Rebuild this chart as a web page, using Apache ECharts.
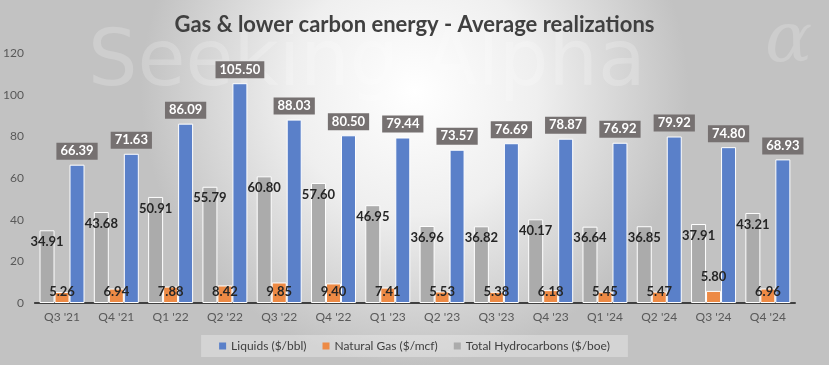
<!DOCTYPE html>
<html><head><meta charset="utf-8">
<script src="https://cdn.jsdelivr.net/npm/echarts@6/dist/echarts.min.js"></script>
<style>html,body{margin:0;padding:0;}#c{width:829px;height:365px;}</style>
</head><body><div id="c"></div>
<script>
const categories = ["Q3 '21","Q4 '21","Q1 '22","Q2 '22","Q3 '22","Q4 '22","Q1 '23","Q2 '23","Q3 '23","Q4 '23","Q1 '24","Q2 '24","Q3 '24","Q4 '24"];
const liquids = [66.39,71.63,86.09,105.50,88.03,80.50,79.44,73.57,76.69,78.87,76.92,79.92,74.80,68.93];
const naturalGas = [5.26,6.94,7.88,8.42,9.85,9.40,7.41,5.53,5.38,6.18,5.45,5.47,5.80,6.96];
const totalHydrocarbons = [34.91,43.68,50.91,55.79,60.80,57.60,46.95,36.96,36.82,40.17,36.64,36.85,37.91,43.21];
const yTicks = {min:0, max:120, interval:20};

const FONT = 'Lato';
const chart = echarts.init(document.getElementById('c'), null, {renderer:'canvas'});
const gasData = naturalGas.map((v,i)=> i===12 ? {value:v, label:{offset:[0,-15]}} : v);
chart.setOption({
  backgroundColor: {type:'radial', x:0.5, y:0.25, r:0.75, colorStops:[{offset:0,color:'#ffffff'},{offset:0.45,color:'#efefef'},{offset:1,color:'#c2c2c2'}]},
  textStyle:{fontFamily:FONT},
  graphic:[{type:'text', left:88, top:26, z:-1, silent:true,
    style:{text:'Seeking Alpha', font:'78px "DejaVu Sans"', fill:'rgba(255,255,255,0.2)'}},
    {type:'text', left:765, top:8, z:-1, silent:true,
    style:{text:'α', font:'italic 70px "DejaVu Serif"', fill:'rgba(255,255,255,0.18)'}}],
  title:{text:'Gas & lower carbon energy - Average realizations', left:'center', top:9,
    textStyle:{fontFamily:FONT, fontSize:22, fontWeight:'bold', color:'#404040'}},
  legend:{data:['Liquids ($/bbl)','Natural Gas ($/mcf)','Total Hydrocarbons ($/boe)'], bottom:8, left:'center',
    itemWidth:7, itemHeight:7, itemGap:16, icon:'rect', padding:[5,18],
    itemStyle:{borderWidth:0},
    backgroundColor:'rgba(255,255,255,0.3)',
    textStyle:{fontFamily:FONT, fontSize:12, color:'#404040'}},
  grid:{left:33, right:34, top:53, bottom:62, containLabel:false},
  xAxis:{type:'category', data:categories,
    axisLine:{lineStyle:{color:'#404040', width:2}}, axisTick:{show:false},
    axisLabel:{color:'#595959', fontSize:12, margin:8, fontFamily:FONT}},
  yAxis:{type:'value', min:yTicks.min, max:yTicks.max, interval:yTicks.interval,
    splitLine:{show:false}, axisLine:{show:false}, axisTick:{show:false},
    axisLabel:{color:'#595959', fontSize:12, margin:11, fontFamily:FONT}},
  series:[
    {name:'Total Hydrocarbons ($/boe)', type:'bar', data:totalHydrocarbons, barWidth:15, barGap:'0%', barCategoryGap:'17%',
      itemStyle:{color:'#ababab', borderColor:'#ffffff', borderWidth:1},
      label:{show:true, position:'insideTop', distance:5, formatter:p=>p.value.toFixed(2), fontFamily:FONT, fontSize:13, fontWeight:'bold', color:'#262626'}},
    {name:'Natural Gas ($/mcf)', type:'bar', data:gasData, barWidth:15, barGap:'0%',
      itemStyle:{color:'#ed8a45', borderColor:'#ffffff', borderWidth:1},
      label:{show:true, position:'insideBottom', distance:5, formatter:p=>(+p.value).toFixed(2), fontFamily:FONT, fontSize:13, fontWeight:'bold', color:'#262626'}},
    {name:'Liquids ($/bbl)', type:'bar', data:liquids, barWidth:15, barGap:'0%',
      itemStyle:{color:'#5a80c9', borderColor:'#ffffff', borderWidth:1},
      label:{show:true, position:'top', distance:5, formatter:p=>p.value.toFixed(2), fontFamily:FONT, fontSize:13, fontWeight:'bold', color:'#ffffff',
        backgroundColor:'#767171', padding:[2,4]}}
  ]
});
</script></body></html>
